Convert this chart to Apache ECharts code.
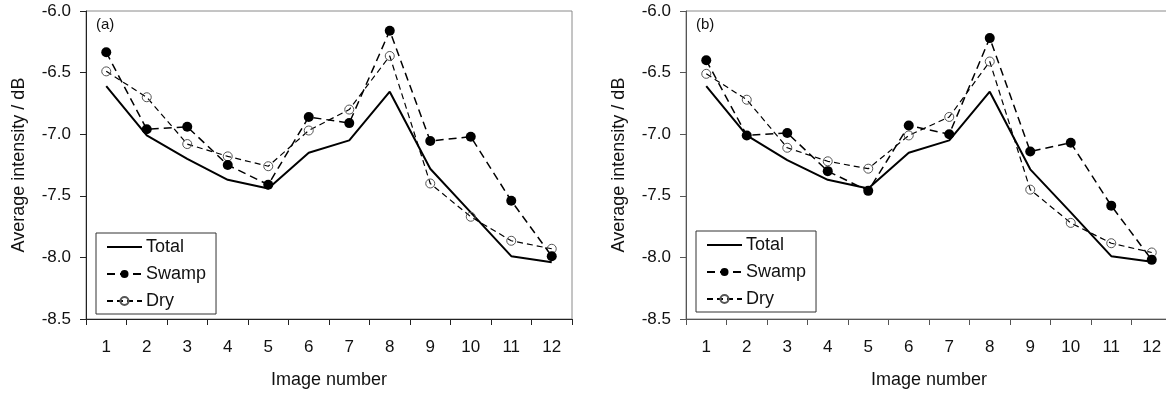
<!DOCTYPE html>
<html>
<head>
<meta charset="utf-8">
<title>Average intensity by image number</title>
<script src="https://cdn.jsdelivr.net/npm/echarts@6/dist/echarts.min.js"></script>
<style>
  html, body { margin: 0; padding: 0; background: #fff; }
  #main { width: 1166px; height: 394px; }
</style>
</head>
<body>
<div id="main"></div>
<script>
// categories on the x axis
const imageNumbers = ['1', '2', '3', '4', '5', '6', '7', '8', '9', '10', '11', '12'];

// y axis range (dB), ticks every 0.5
const yMin = -8.5;
const yMax = -6.0;
const yStep = 0.5;

// panel (a)
const totalA = [-6.61, -7.01, -7.20, -7.37, -7.44, -7.15, -7.05, -6.655, -7.28, -7.635, -7.99, -8.04];
const swampA = [-6.335, -6.96, -6.94, -7.25, -7.41, -6.86, -6.91, -6.16, -7.055, -7.02, -7.54, -7.99];
const dryA = [-6.49, -6.70, -7.08, -7.18, -7.26, -6.97, -6.80, -6.365, -7.40, -7.67, -7.865, -7.93];

// panel (b)
const totalB = [-6.61, -7.01, -7.21, -7.37, -7.44, -7.15, -7.05, -6.655, -7.285, -7.635, -7.99, -8.035];
const swampB = [-6.40, -7.01, -6.99, -7.30, -7.46, -6.93, -7.00, -6.22, -7.14, -7.07, -7.58, -8.02];
const dryB = [-6.51, -6.72, -7.11, -7.22, -7.28, -7.01, -6.86, -6.41, -7.45, -7.72, -7.885, -7.96];

const panelLabels = ['(a)', '(b)'];

const FONT = 'Arial, "Liberation Sans", sans-serif';
const panels = [
  { left: 86, total: totalA, swamp: swampA, dry: dryA, axisColor: '#222', legendTop: 233 },
  { left: 686, total: totalB, swamp: swampB, dry: dryB, axisColor: '#555', legendTop: 231 }
];

const chart = echarts.init(document.getElementById('main'), null, { renderer: 'canvas' });

const grid = [], xAxis = [], yAxis = [], series = [], legend = [], graphic = [];

panels.forEach((p, i) => {
  // right panel runs past the window edge, so don't let v6 squeeze it back in
  grid.push({
    left: p.left, top: 11, width: 486, height: 308,
    outerBoundsMode: 'none', containLabel: false,
    show: true, borderColor: '#8a8a8a', borderWidth: 1, backgroundColor: 'transparent'
  });
  xAxis.push({
    type: 'category', gridIndex: i, data: imageNumbers, boundaryGap: true,
    name: 'Image number', nameLocation: 'middle', nameGap: 52,
    nameTextStyle: { fontFamily: FONT, fontSize: 18, color: '#111' },
    axisLine: { show: true, lineStyle: { color: p.axisColor, width: 1 } },
    axisTick: { show: true, length: 6, alignWithLabel: false, interval: 0, lineStyle: { color: p.axisColor } },
    axisLabel: { interval: 0, margin: 20, fontFamily: FONT, fontSize: 17, color: '#111' },
    splitLine: { show: false }
  });
  yAxis.push({
    type: 'value', gridIndex: i, min: yMin, max: yMax, interval: yStep,
    name: 'Average intensity / dB', nameLocation: 'middle', nameGap: 58,
    nameTextStyle: { fontFamily: FONT, fontSize: 18, color: '#111' },
    axisLine: { show: true, lineStyle: { color: p.axisColor, width: 1 } },
    axisTick: { show: true, length: 6, lineStyle: { color: p.axisColor } },
    axisLabel: { margin: 15, fontFamily: FONT, fontSize: 17, color: '#111', formatter: v => v.toFixed(1) },
    splitLine: { show: false }
  });

  series.push({
    name: 'Total', type: 'line', xAxisIndex: i, yAxisIndex: i, data: p.total,
    symbol: 'none', lineStyle: { color: '#000', width: 2 }, itemStyle: { color: '#000' }, z: 2
  });
  series.push({
    name: 'Swamp', type: 'line', xAxisIndex: i, yAxisIndex: i, data: p.swamp,
    symbol: 'circle', symbolSize: 10,
    lineStyle: { color: '#000', width: 1.5, type: [8, 5] },
    itemStyle: { color: '#000', borderColor: '#000', borderWidth: 0 }, z: 4
  });
  series.push({
    name: 'Dry', type: 'line', xAxisIndex: i, yAxisIndex: i, data: p.dry,
    symbol: 'circle', symbolSize: 9, showAllSymbol: true,
    lineStyle: { color: '#000', width: 1.2, type: [6, 4] },
    itemStyle: { color: 'rgba(255,255,255,0)', borderColor: '#555', borderWidth: 1 }, z: 3
  });

  legend.push({
    data: [
      { name: 'Total', itemStyle: { opacity: 0 } },
      { name: 'Swamp' },
      { name: 'Dry' }
    ],
    orient: 'vertical',
    left: p.left + 10, top: p.legendTop,
    itemWidth: 35, itemHeight: 10, itemGap: 9,
    padding: [5, 10, 4, 10],
    borderColor: '#333', borderWidth: 1, backgroundColor: '#fff',
    selectedMode: false,
    textStyle: { fontFamily: FONT, fontSize: 18, color: '#111', padding: [0, 0, 0, -1] }
  });

  graphic.push({
    type: 'text', left: p.left + 10, top: 17,
    style: { text: panelLabels[i], font: '15px ' + FONT, fill: '#111' }
  });
});

chart.setOption({
  animation: false,
  backgroundColor: '#fff',
  grid, xAxis, yAxis, series, legend, graphic
});
</script>
</body>
</html>
